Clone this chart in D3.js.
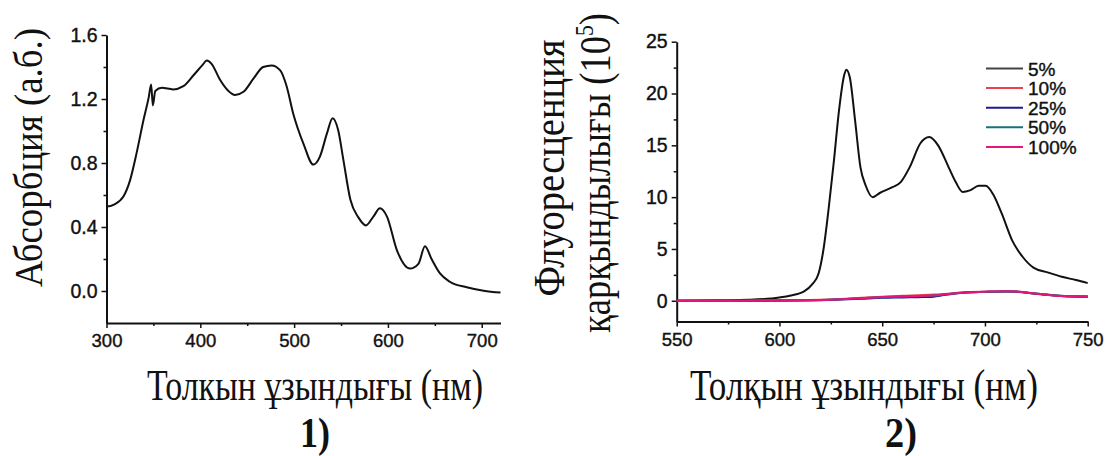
<!DOCTYPE html>
<html>
<head>
<meta charset="utf-8">
<script src="https://cdn.jsdelivr.net/npm/d3@7"></script>
<style>
  html, body { margin: 0; padding: 0; background: #fff; }
  svg { display: block; }
</style>
</head>
<body>
<svg id="chart" width="1112" height="456"></svg>
<script>
// ---------- Panel 1: absorption ----------
const absWavelength = [300,303,308,318,325,332,339.5,345,347.6,349.4,352,359,371,382,393,402,407,412,421,430,437,446,457,467,476,485,492,499,510,520.5,527.5,535,541,547,552.5,560,568.5,576.5,584.5,591.5,599,609.5,623.5,632.5,639.5,646.5,655.5,666,684,702,720];
const absValue = [0.53,0.53,0.54,0.59,0.69,0.86,1.07,1.21,1.29,1.16,1.25,1.27,1.26,1.28,1.35,1.41,1.44,1.42,1.32,1.25,1.225,1.245,1.33,1.40,1.41,1.38,1.28,1.11,0.92,0.79,0.84,0.985,1.08,1.005,0.82,0.57,0.46,0.41,0.465,0.517,0.465,0.256,0.14,0.17,0.28,0.20,0.11,0.058,0.023,0.002,-0.01];
const absXTicks = [300,400,500,600,700];
const absXMinor = [350,450,550,650];
const absYTicks = [0.0,0.4,0.8,1.2,1.6];
const absYMinor = [0.2,0.6,1.0,1.4];

// ---------- Panel 2: fluorescence ----------
const fl5Wavelength = [550,570,585,596,605,612,616,619,621.3,624,626.5,629,631.3,632.5,634.2,636.8,639.4,642,645.4,648.8,655,659,663.4,668.6,672.9,677.2,682.3,685.8,689.2,692.7,697,700.4,703.9,708.2,713.3,718.5,723.6,730.5,737.4,744.3,750];
const fl5Value = [0,0.05,0.1,0.22,0.48,0.9,1.6,2.6,4.8,9.0,13.5,18.4,21.6,22.3,21.6,17.4,12.9,11.1,10.0,10.4,10.96,11.45,12.9,15.2,15.8,15.0,12.9,11.45,10.5,10.65,11.1,11.1,10.3,8.4,5.8,4.2,3.2,2.74,2.32,2.0,1.7];
const flWavelength = [550,570,590,610,620,630,640,650,660,670,675,680,690,700,710,715,720,730,740,750];
const fl10Value = [0,0,0.02,0.05,0.1,0.18,0.3,0.4,0.48,0.55,0.6,0.65,0.82,0.88,0.92,0.9,0.8,0.6,0.45,0.42];
const fl25Value = [0,0,0.01,0.03,0.06,0.12,0.2,0.28,0.32,0.36,0.4,0.55,0.78,0.85,0.9,0.88,0.78,0.58,0.42,0.4];
const fl50Value = [0,0,0.02,0.04,0.08,0.15,0.25,0.34,0.4,0.45,0.5,0.6,0.8,0.86,0.9,0.89,0.8,0.6,0.44,0.42];
const fl100Value = [0,0,0.02,0.04,0.08,0.15,0.26,0.36,0.43,0.48,0.52,0.62,0.8,0.87,0.92,0.9,0.8,0.58,0.44,0.44];
const seriesNames = ["5%","10%","25%","50%","100%"];
const seriesColors = ["#111111","#e8434c","#1c1c8f","#17707a","#e8147c"];
const legendLineColors = ["#444444","#e8434c","#1c1c8f","#17707a","#e8147c"];
const flXTicks = [550,600,650,700,750];
const flXMinor = [575,625,675,725];
const flYTicks = [0,5,10,15,20,25];
const flYMinor = [2.5,7.5,12.5,17.5,22.5];

const svg = d3.select("#chart");
const serif = '"Liberation Serif", "DejaVu Serif", "Times New Roman", serif';
const sans = '"Liberation Sans", Arial, sans-serif';

function drawAxes(g, x, y, xt, xm, yt, ym, fmtY, fx, fy) {
  const x0 = y.range()[0];
  const yAx = x.range()[0];
  const gx = g.append("g").attr("transform", `translate(0,${x0})`)
    .call(d3.axisBottom(x).tickValues(xt).tickSize(5).tickSizeOuter(0).tickPadding(6).tickFormat(d3.format("d")));
  g.append("g").attr("transform", `translate(0,${x0})`)
    .call(d3.axisBottom(x).tickValues(xm).tickSize(3).tickSizeOuter(0).tickFormat(""))
    .select(".domain").remove();
  const gy = g.append("g").attr("transform", `translate(${yAx},0)`)
    .call(d3.axisLeft(y).tickValues(yt).tickSize(5).tickSizeOuter(0).tickPadding(4).tickFormat(fmtY));
  g.append("g").attr("transform", `translate(${yAx},0)`)
    .call(d3.axisLeft(y).tickValues(ym).tickSize(3).tickSizeOuter(0).tickFormat(""))
    .select(".domain").remove();
  g.selectAll(".domain").attr("stroke", "#111").attr("stroke-width", 2);
  g.selectAll(".tick line").attr("stroke", "#111").attr("stroke-width", 1.5);
  gx.selectAll(".tick text").style("font-size", fx + "px");
  gy.selectAll(".tick text").style("font-size", fy + "px");
  g.selectAll(".tick text")
    .style("font-family", sans)
    .attr("fill", "#111").attr("stroke", "#111").attr("stroke-width", 0.4);
}

function fitText(parent, cx, cy, rot, len, size, weight, parts) {
  const t = parent.append("text")
    .attr("text-anchor", "middle")
    .style("font-family", serif)
    .style("font-size", size + "px")
    .style("font-weight", weight)
    .attr("fill", "#111");
  parts.forEach(p => {
    const ts = t.append("tspan").text(p.text);
    if (p.size) ts.style("font-size", p.size + "px");
    if (p.dy) ts.attr("dy", p.dy);
  });
  const w = t.node().getComputedTextLength();
  t.attr("transform", `translate(${cx},${cy}) rotate(${rot}) scale(${len / w},1)`);
  return t;
}

// ---- Panel 1 ----
const xL = d3.scaleLinear().domain([300, 720]).range([106.5, 500.5]);
const yL = d3.scaleLinear().domain([-0.2, 1.6]).range([323, 35]);
const g1 = svg.append("g");
drawAxes(g1, xL, yL, absXTicks, absXMinor, absYTicks, absYMinor, d3.format(".1f"), 18.5, 19.5);
const lineL = d3.line().x((d, i) => xL(absWavelength[i])).y(d => yL(d)).curve(d3.curveMonotoneX);
g1.append("path").datum(absValue).attr("d", lineL)
  .attr("fill", "none").attr("stroke", "#111").attr("stroke-width", 2);

// ---- Panel 2 ----
const xR = d3.scaleLinear().domain([550, 750]).range([676.7, 1087.7]);
const yR = d3.scaleLinear().domain([-2, 25]).range([321.5, 41.7]);
const g2 = svg.append("g");
drawAxes(g2, xR, yR, flXTicks, flXMinor, flYTicks, flYMinor, d3.format("d"), 18.5, 19.5);

const flSeries = [
  { w: fl5Wavelength, v: fl5Value },
  { w: flWavelength, v: fl10Value },
  { w: flWavelength, v: fl25Value },
  { w: flWavelength, v: fl50Value },
  { w: flWavelength, v: fl100Value }
];
flSeries.forEach((s, k) => {
  const ln = d3.line().x((d, i) => xR(s.w[i])).y(d => yR(d)).curve(d3.curveMonotoneX);
  g2.append("path").datum(s.v).attr("d", ln)
    .attr("fill", "none").attr("stroke", seriesColors[k]).attr("stroke-width", 2);
});

// legend
const leg = g2.append("g");
seriesNames.forEach((name, k) => {
  const yy = 68.5 + k * 19.6;
  leg.append("line").attr("x1", 986).attr("x2", 1023).attr("y1", yy).attr("y2", yy)
    .attr("stroke", legendLineColors[k]).attr("stroke-width", 2);
  leg.append("text").attr("x", 1028).attr("y", yy + 7).text(name)
    .style("font-family", sans).style("font-size", "19px")
    .attr("fill", "#111").attr("stroke", "#111").attr("stroke-width", 0.4);
});

// ---- Titles ----
fitText(svg, 42, 157.5, -90, 259, 41, "normal", [{ text: "Абсорбция (а.б.)" }]);
fitText(svg, 315, 400, 0, 336, 44, "normal", [{ text: "Толкын ұзындығы (нм)" }]);
fitText(svg, 315, 446.5, 0, 30, 42, "bold", [{ text: "1)" }]);

fitText(svg, 564, 168, -90, 257, 44, "normal", [{ text: "Флуоресценция" }]);
fitText(svg, 610, 173, -90, 320, 44, "normal", [
  { text: "қарқындылығы (10" },
  { text: "5", size: 26, dy: -17 },
  { text: ")", size: 44, dy: 17 }
]);
fitText(svg, 864, 400, 0, 348, 44, "normal", [{ text: "Толқын ұзындығы (нм)" }]);
fitText(svg, 901, 446.5, 0, 32, 42, "bold", [{ text: "2)" }]);
</script>
</body>
</html>
